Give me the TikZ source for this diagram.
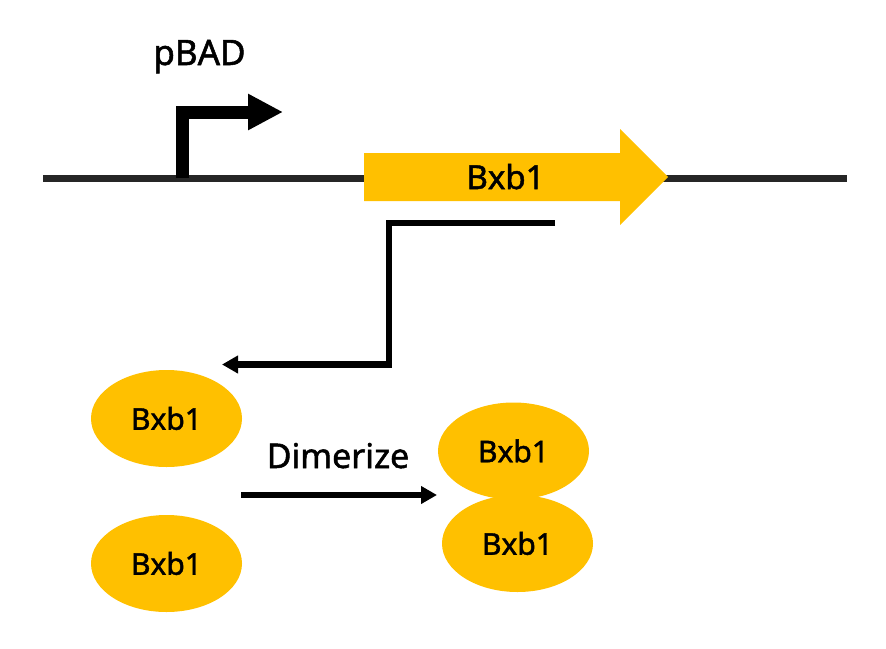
\documentclass[tikz,border=0pt]{standalone}
\usepackage{fontspec}
\setmainfont{Noto Sans}[FakeBold=1.5]
\usetikzlibrary{arrows.meta,shapes.geometric}
\definecolor{gold}{HTML}{FFC000}
\definecolor{dna}{HTML}{262626}
\tikzset{
  prot/.style={ellipse, fill=gold, draw=none, minimum width=151pt, minimum height=97pt, inner sep=0pt, font=\bfseries\fontsize{30}{32}\selectfont},
  lbl/.style={anchor=base, inner sep=0pt},
  conn/.style={line width=6.5pt, -{Triangle[length=16pt,width=17pt]}},
}
\begin{document}
\begin{tikzpicture}[x=1pt,y=-1pt]
\useasboundingbox (0,0) rectangle (886,648);
% DNA
\coordinate (dnaL) at (43,178);
\coordinate (dnaR) at (847,178);
\draw[dna, line width=7pt] (dnaL) -- (dnaR);
% promoter
\coordinate (pb) at (182,178);
\coordinate (pc) at (182,112);
\coordinate (pt) at (283,112);
\draw[line width=13pt, -{Triangle[length=35pt,width=34pt]}] (pb) -- (pc) -- (pt);
\node[lbl, font=\bfseries\fontsize{35}{37}\selectfont] (pbad) at (199.5,65) {pBAD};
% gene arrow
\fill[gold] (364,153) -- (620,153) -- (620,129) -- (668,177) -- (620,225) -- (620,201) -- (364,201) -- cycle;
\node[lbl, font=\bfseries\fontsize{33}{35}\selectfont] (gene) at (505.5,189) {Bxb1};
% connector from gene to protein
\coordinate (gs) at (555,223);
\coordinate (ge) at (222,364.5);
\draw[conn] (gs) -- (389,223) -- (389,364.5) -- (ge);
% proteins
\node[prot] (p1) at (166.5,418.5) {Bxb1};
\node[prot] (p2) at (166.5,563.5) {Bxb1};
\node[prot] (d2) at (517.5,543.5) {Bxb1};
\node[prot] (d1) at (513.5,451) {Bxb1};
% dimerize
\coordinate (da) at (241,495);
\coordinate (db) at (437,495);
\draw[conn] (da) -- (db);
\node[lbl, font=\bfseries\fontsize{34}{36}\selectfont] (dim) at (338,468) {Dimerize};
\end{tikzpicture}
\end{document}
